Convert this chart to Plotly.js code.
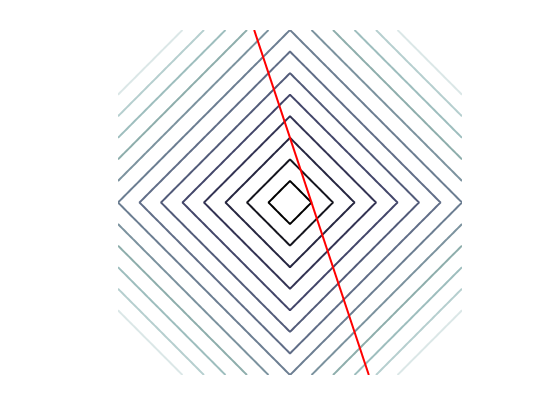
<!DOCTYPE html>
<html>
<head>
<meta charset="utf-8">
<script src="https://cdn.plot.ly/plotly-3.0.1.min.js"></script>
<style>html,body{margin:0;padding:0;background:#fff;}#chart{width:560px;height:420px;}</style>
</head>
<body>
<div id="chart"></div>
<script>
// Contour field: z = |x| + |y| on [-1, 1] x [-1, 1]
var gridMin = -1, gridMax = 1, gridN = 161;
var levelStart = 0.125, levelEnd = 1.625, levelStep = 0.125;
// Colour of each contour level, inner (level 1) to outer (level 13), bone-like
var levelColors = ['#000000', '#16161f', '#262640', '#343454', '#43466a', '#535c7a',
                   '#616e88', '#6c7e92', '#7c939f', '#8eaeac', '#9ebebe', '#b6cfcf', '#dbe7e7'];
// Red constraint line y = 0.375 - 3x, drawn between two end points
var lineX = [-0.2083, 0.4583];
var lineY = [1.0, -1.0];

var xs = [], ys = [];
for (var i = 0; i < gridN; i++) {
  var v = gridMin + (gridMax - gridMin) * i / (gridN - 1);
  xs.push(v); ys.push(v);
}
var z = ys.map(function (y) { return xs.map(function (x) { return Math.abs(x) + Math.abs(y); }); });

var scale = levelColors.map(function (c, k) { return [k / (levelColors.length - 1), c]; });

var traces = [
  {
    type: 'contour',
    x: xs, y: ys, z: z,
    colorscale: scale,
    zmin: levelStart,
    zmax: levelEnd,
    showscale: false,
    autocontour: false,
    contours: { start: levelStart, end: levelEnd, size: levelStep, coloring: 'lines' },
    line: { width: 2, smoothing: 0 },
    hoverinfo: 'skip'
  },
  {
    type: 'scatter', mode: 'lines',
    x: lineX, y: lineY,
    line: { color: '#ff0000', width: 2 },
    hoverinfo: 'skip'
  }
];

var layout = {
  width: 560, height: 420,
  margin: { l: 118, r: 98, t: 30, b: 45 },
  paper_bgcolor: '#ffffff', plot_bgcolor: '#ffffff',
  showlegend: false,
  xaxis: { range: [-1, 1], visible: false, showgrid: false, zeroline: false },
  yaxis: { range: [-1, 1], visible: false, showgrid: false, zeroline: false }
};

Plotly.newPlot('chart', traces, layout, { displayModeBar: false, staticPlot: true });
</script>
</body>
</html>
